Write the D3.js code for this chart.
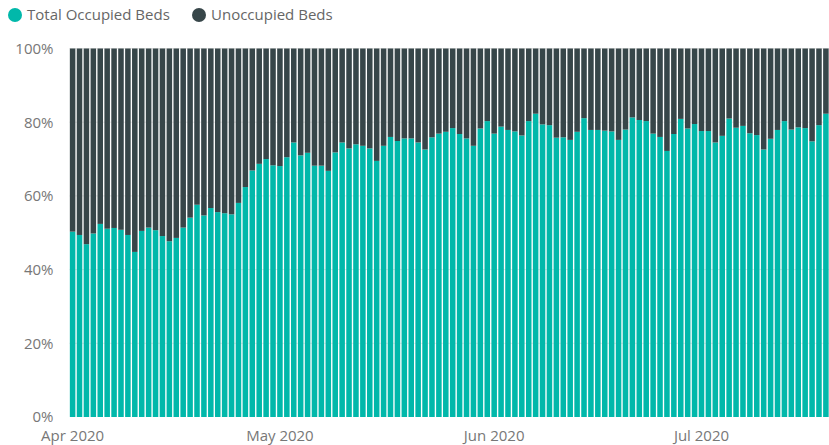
<!DOCTYPE html>
<html>
<head>
<meta charset="utf-8">
<script src="https://cdn.jsdelivr.net/npm/d3@7"></script>
<style>
  body { margin: 0; background: #fff; }
  text { font-family: "Segoe UI", "Open Sans", "Noto Sans", sans-serif; }
</style>
</head>
<body>
<div id="vis"></div>
<script>
(function () {

  'use strict';

  // Data: share of occupied beds per day (%), 1 Apr 2020 onwards
  var startDate = '2020-04-01';

  var occupied = [
    50.3, 49.4, 46.9, 49.8, 52.4, 51.1, 51.3, 50.8, 49.4, 44.8,
    50.5, 51.4, 50.7, 49.1, 47.7, 48.6, 51.4, 54.1, 57.6, 54.7,
    56.7, 55.6, 55.3, 55.0, 58.1, 62.4, 66.9, 68.7, 70.0, 68.3,
    68.1, 70.5, 74.5, 71.0, 71.7, 68.2, 68.2, 66.8, 71.8, 74.5,
    72.9, 74.0, 73.6, 72.9, 69.5, 73.6, 76.0, 74.9, 75.6, 75.6,
    74.5, 72.6, 75.9, 76.9, 77.4, 78.4, 76.8, 75.6, 73.6, 78.3,
    80.3, 76.9, 78.8, 77.9, 77.5, 76.4, 80.3, 82.3, 79.4, 79.2,
    75.8, 75.9, 75.2, 77.4, 81.1, 77.9, 77.9, 77.7, 77.5, 75.2,
    78.0, 81.3, 80.6, 80.3, 76.9, 76.0, 72.2, 76.8, 80.9, 78.3,
    79.5, 77.6, 77.6, 74.5, 76.3, 81.0, 78.5, 79.0, 77.0, 76.5,
    72.6, 75.5, 77.9, 80.3, 78.0, 78.6, 78.4, 74.8, 79.2, 82.3
  ];

  var seriesNames = ['Total Occupied Beds', 'Unoccupied Beds'];
  var yTicks = [0, 20, 40, 60, 80, 100];
  var monthTicks = ['2020-04-01', '2020-05-01', '2020-06-01', '2020-07-01'];

  // Settings
  var width = 829;
  var height = 445;

  var margin = {
    top: 48.5,
    right: 0,
    bottom: 28,
    left: 69.5
  };

  var colors = ['#01b8aa', '#374649'];

  var parse = d3.timeParse('%Y-%m-%d');

  var days = occupied.map(function (v, i) {
    var d = d3.timeDay.offset(parse(startDate), i);
    return { date: d, key: +d, occupied: v, unoccupied: 100 - v };
  });

  var svg = d3.select('#vis').append('svg')
      .attr('width', width)
      .attr('height', height);

  var x = d3.scaleBand()
      .domain(days.map(function (d) { return d.key; }))
      .range([margin.left, width - margin.right])
      .paddingInner(0.2)
      .paddingOuter(0.05);

  var y = d3.scaleLinear()
      .domain([0, 100])
      .range([height - margin.bottom, margin.top]);

  // Gridlines
  svg.append('g')
    .selectAll('line')
      .data(yTicks.slice(1))
      .enter()
    .append('line')
      .attr('x1', margin.left)
      .attr('x2', width - margin.right)
      .attr('y1', function (d) { return y(d); })
      .attr('y2', function (d) { return y(d); })
      .attr('stroke', '#e6e6e6')
      .attr('stroke-width', 1);

  // Stacked bars
  var stack = d3.stack().keys(['occupied', 'unoccupied']);
  var layers = stack(days);

  svg.append('g')
    .selectAll('g')
      .data(layers)
      .enter()
    .append('g')
      .attr('fill', function (d, i) { return colors[i]; })
    .selectAll('rect')
      .data(function (d) { return d; })
      .enter()
    .append('rect')
      .attr('x', function (d) { return x(d.data.key); })
      .attr('width', x.bandwidth())
      .attr('y', function (d) { return y(d[1]); })
      .attr('height', function (d) { return y(d[0]) - y(d[1]); });

  // Y axis
  var yAxis = d3.axisLeft(y)
      .tickValues(yTicks)
      .tickSize(0)
      .tickPadding(16)
      .tickFormat(function (d) { return d + '%'; });

  var gy = svg.append('g')
      .attr('transform', 'translate(' + margin.left + ',0)')
      .call(yAxis);

  gy.select('.domain').remove();
  gy.selectAll('text')
      .attr('fill', '#777')
      .attr('font-size', '15px')
      .style('font-family', '"Segoe UI", "Open Sans", "Noto Sans", sans-serif');

  // X axis, month labels centred on the first day of each month
  var gx = svg.append('g')
      .attr('transform', 'translate(0,' + (height - margin.bottom) + ')');

  gx.selectAll('text')
      .data(monthTicks.map(parse))
      .enter()
    .append('text')
      .attr('x', function (d) { return x(+d) + x.bandwidth() / 2; })
      .attr('y', 24)
      .attr('text-anchor', 'middle')
      .attr('fill', '#777')
      .attr('font-size', '15px')
      .text(d3.timeFormat('%b %Y'));

  // Legend
  var legendX = [15, 199];

  var legend = svg.append('g')
    .selectAll('g')
      .data(seriesNames)
      .enter()
    .append('g')
      .attr('transform', function (d, i) { return 'translate(' + legendX[i] + ',15)'; });

  legend.append('circle')
      .attr('r', 7)
      .attr('fill', function (d, i) { return colors[i]; });

  legend.append('text')
      .attr('x', 12)
      .attr('dy', '0.35em')
      .attr('fill', '#666')
      .attr('font-size', '15px')
      .text(function (d) { return d; });
})();
</script>
</body>
</html>
